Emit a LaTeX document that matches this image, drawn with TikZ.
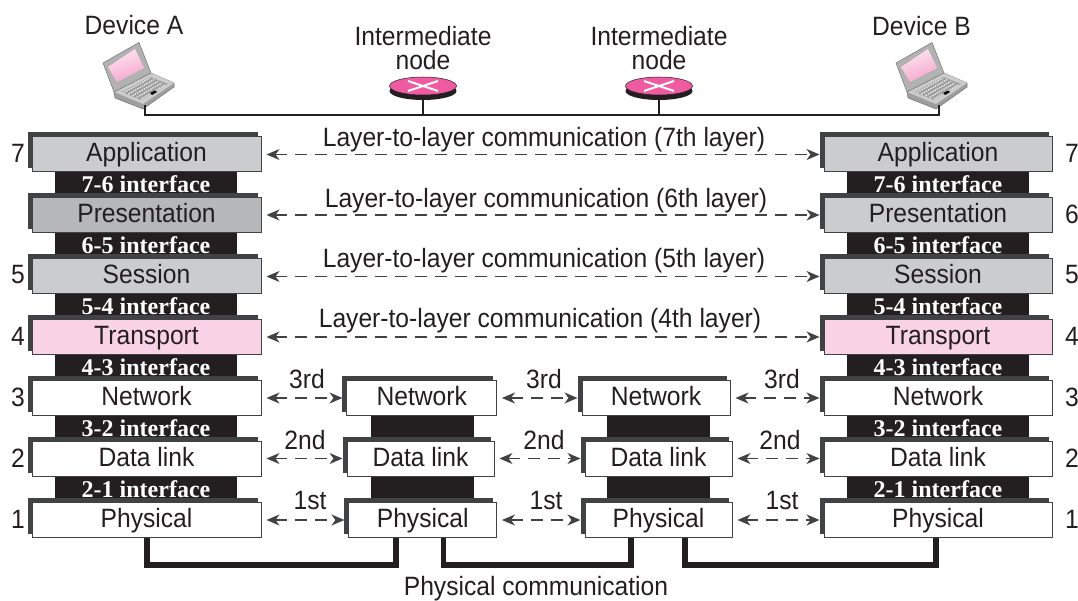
\documentclass[tikz,border=0pt]{standalone}
\usepackage{fontspec}
\setmainfont[FakeStretch=0.93]{Liberation Sans}
\newfontfamily\ifacefont{Liberation Serif}
\usetikzlibrary{arrows.meta,calc,shadows,shapes.geometric}
\definecolor{AppClr}{HTML}{CBCCCE}
\definecolor{PresClrA}{HTML}{B6B7B9}
\definecolor{PresClrB}{HTML}{CBCCCE}
\definecolor{TransClr}{HTML}{F9D3E5}
\definecolor{RouterClr}{HTML}{EF5BA1}
\definecolor{EdgeClr}{HTML}{404244}
\definecolor{BarClr}{HTML}{231F20}
\tikzset{
  txt/.style={inner sep=0pt,font=\fontsize{26.5}{28}\selectfont,text=BarClr},
  layerbox/.style={draw=EdgeClr,line width=1pt,minimum height=35pt,inner sep=0pt,
    text height=18.5pt,text depth=3.5pt,font=\fontsize{26.5}{28}\selectfont,text=BarClr,
    copy shadow={shadow xshift=-4pt,shadow yshift=4pt,fill=EdgeClr,draw=EdgeClr}},
  ifacebar/.style={fill=BarClr,minimum height=30pt,inner sep=0pt,text=white,
    font=\ifacefont\bfseries\fontsize{24}{26}\selectfont},
  peerline/.style={dashed,dash pattern=on 12pt off 8pt,line width=1.2pt,draw=EdgeClr,
    {Stealth[inset=4pt,length=13pt,width=11pt]}-{Stealth[inset=4pt,length=13pt,width=11pt]},
    shorten <=5pt,shorten >=4pt},
  physline/.style={line width=5.5pt,draw=BarClr,line join=miter},
  busline/.style={line width=2.4pt,draw=BarClr},
  router/.style={ellipse,minimum width=67pt,minimum height=18pt,inner sep=0pt},
  laptop/.pic={
    \fill[draw=black!55,fill=black!38,line width=.5pt] (34,52) -- (71,33) -- (94,43) -- (94,47) -- (63,69) -- (35,58) -- cycle;
    \fill[black!20] (34,52) -- (71,33) -- (94,43) -- (63,64) -- cycle;
    \fill[black!38] (42,52) -- (70,37) -- (88,44) -- (61,60) -- cycle;
    \foreach \k in {0,1,2,3,4} \draw[black!8,line width=1.3pt,dash pattern=on 1.6pt off 1pt]
      ($(44,52.5)!\k/4!(61,59)$) -- ($(70,38)!\k/4!(86,44.5)$);
    \fill[black] (70,53) -- (75,50.5) -- (77,52) -- (72,55) -- cycle;
    \fill[draw=black!55,fill=black!30,line width=.5pt] (23,23) -- (59,2.5) -- (71,33) -- (34,52) -- cycle;
    \shade[left color=RouterClr!15,right color=RouterClr!55,shading angle=20] (28,27) -- (55,9) -- (64,28) -- (37,42) -- cycle;
  },
}

\begin{document}
\begin{tikzpicture}[x=1pt,y=-1pt]
\useasboundingbox (0,0) rectangle (1078,601);

% interface bars go under the layer boxes
\foreach \col/\x in {A/146,B/938}
  \foreach \n/\y in {7-6/184.5,6-5/245.5,5-4/306,4-3/367,3-2/428,2-1/489}
    \node[ifacebar,minimum width=182.5pt] (bar\n\col) at (\x,\y) {\n{} interface};
\foreach \col/\x in {M/422.5,N/658}
  \foreach \n/\y in {32/428,21/489}
    \node[ifacebar,minimum width=103pt] (bar\n\col) at (\x,\y) {};

% end stacks
\foreach \col/\x/\w in {A/146.5/229,B/938/228}
  \foreach \name/\txt/\y/\clr in {app/Application/154.5/AppClr,pres/Presentation/215/PresClr\col,
    sess/Session/276.5/AppClr,trans/Transport/337/TransClr,net/Network/398/white,
    link/Data link/458.5/white,phys/Physical/520/white}
    \node[layerbox,fill=\clr,minimum width=\w pt] (\name\col) at (\x,\y) {\txt};

% intermediate nodes
\foreach \name/\txt/\col/\x/\w/\y in {net/Network/M/421.7/149.5/398,link/Data link/M/420.5/147/458.5,phys/Physical/M/422.7/147.5/520,
    net/Network/N/656/148/398,link/Data link/N/658.5/147/458.5,phys/Physical/N/658.5/147/520}
  \node[layerbox,fill=white,minimum width=\w pt] (\name\col) at (\x,\y) {\txt};

% layer numbers
\foreach \lab/\y in {7/153,5/275,4/336,3/397,2/458,1/519}
  \node[txt] (numA\lab) at (18,\y) {\lab};
\foreach \lab/\y in {7/153,6/214,5/275,4/336,3/397,2/458,1/519}
  \node[txt] (numB\lab) at (1072,\y) {\lab};

% peer to peer
\foreach \name/\lab/\x/\y in {app/7th/544/139.5,pres/6th/546/200.5,sess/5th/544/260.5,trans/4th/540/320.5}{
  \draw[peerline] (\name A.east) -- (\name B.west);
  \node[txt] (peer\name) at (\x,\y) {Layer-to-layer communication (\lab{} layer)};
}
\foreach \name/\lab/\y/\xa/\xb/\xc in {net/3rd/379/307/544/782,link/2nd/440/305/544/780,phys/1st/501/310/546/782}{
  \draw[peerline] (\name A.east) -- (\name M.west);
  \draw[peerline] (\name M.east) -- (\name N.west);
  \draw[peerline] (\name N.east) -- (\name B.west);
  \node[txt] (peer\name A) at (\xa,\y) {\lab};
  \node[txt] (peer\name M) at (\xb,\y) {\lab};
  \node[txt] (peer\name N) at (\xc,\y) {\lab};
}

% physical medium
\foreach \from/\to/\xa/\xb in {physA/physM/147/396,physM/physN/443.5/631,physN/physB/685/936}
  \draw[physline] (\xa,0 |- \from.south) -- (\xa,565) -- (\xb,565) -- (\xb,0 |- \to.south);
\node[txt] (medium) at (536,588.5) {Physical communication};

% top of the picture
\pic at (80,40) {laptop};
\pic at (873,40) {laptop};
\coordinate (tapA) at (145,105);
\coordinate (tapB) at (939,105);
\coordinate (bus) at (0,115);
\draw[busline] (tapA) |- (bus -| tapB) -- (tapB);
\foreach \col/\x in {M/423,N/659}{
  \node[router,fill=BarClr] (under\col) at (\x,91) {};
  \node[router,fill=RouterClr,draw=BarClr,line width=.5pt] (router\col) at (\x,86) {};
  \draw[white,line width=2pt] (\x-15,81) -- (\x+15,91) (\x-15,91) -- (\x+15,81);
  \draw[busline] (under\col.south) -- (under\col |- bus);
  \node[txt] (inter\col) at (\x,36) {Intermediate};
  \node[txt] (node\col) at (\x,60) {node};
}
\node[txt] (devA) at (134,25) {Device A};
\node[txt] (devB) at (921.5,26) {Device B};
\end{tikzpicture}
\end{document}
